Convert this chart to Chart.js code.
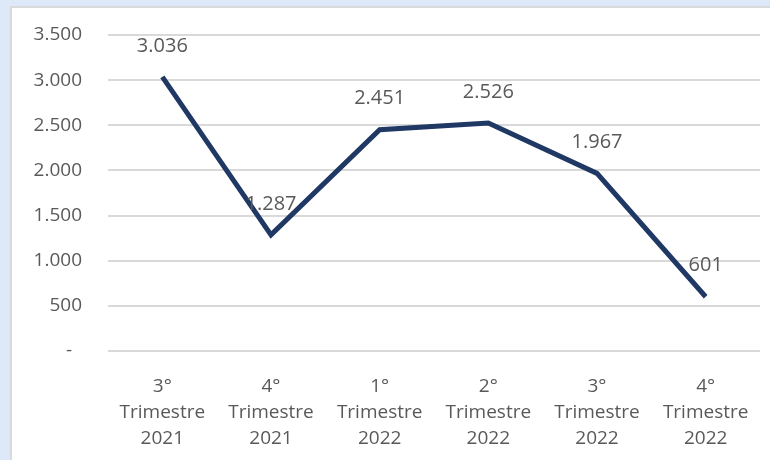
<!DOCTYPE html>
<html>
<head>
<meta charset="utf-8">
<script src="https://cdn.jsdelivr.net/npm/chart.js@4"></script>
<style>
  body { margin: 0; background: #dde8f8; width: 770px; height: 460px; overflow: hidden; }
  #box { position: absolute; left: 10px; top: 6px; width: 770px; height: 460px;
         background: #fff; border: 2px solid #d9d9d9; }
  #myChart { display: block; }
</style>
</head>
<body>
<div id="box"><canvas id="myChart" width="758" height="452"></canvas></div>
<script>
  const labels = [
    ['3°', 'Trimestre', '2021'],
    ['4°', 'Trimestre', '2021'],
    ['1°', 'Trimestre', '2022'],
    ['2°', 'Trimestre', '2022'],
    ['3°', 'Trimestre', '2022'],
    ['4°', 'Trimestre', '2022'],
  ];
  const values = [3036, 1287, 2451, 2526, 1967, 601];
  const yTicks = [0, 500, 1000, 1500, 2000, 2500, 3000, 3500];

  const fmt = (v) => v === 0 ? '-' : v.toLocaleString('it-IT');
  const fontFamily = '"Open Sans"';

  // etichette dati sopra i punti
  const dataLabels = {
    id: 'dataLabels',
    afterDatasetsDraw(chart) {
      const ctx = chart.ctx;
      const meta = chart.getDatasetMeta(0);
      ctx.save();
      ctx.fillStyle = '#595959';
      ctx.font = '20px ' + fontFamily;
      ctx.textAlign = 'center';
      ctx.textBaseline = 'middle';
      meta.data.forEach((pt, i) => {
        ctx.fillText(fmt(values[i]), pt.x, pt.y - 31);
      });
      ctx.restore();
    }
  };

  const data = {
    labels: labels,
    datasets: [{
      label: 'Valori',
      data: values,
      borderColor: '#203864',
      borderWidth: 5,
      pointRadius: 0,
      tension: 0,
      borderJoinStyle: 'miter',
    }]
  };

  const config = {
    type: 'line',
    data: data,
    plugins: [dataLabels],
    options: {
      responsive: false,
      animation: false,
      layout: { padding: { top: 27, right: 10, left: 0, bottom: 0 } },
      scales: {
        x: {
          offset: true,
          grid: { display: false },
          border: { display: false },
          ticks: {
            color: '#595959',
            padding: 15,
            maxRotation: 0,
            font: { family: fontFamily, size: 19, lineHeight: 1.37 },
          },
          afterFit: (s) => { s.height = 109; },
        },
        y: {
          min: 0,
          max: 3500,
          afterBuildTicks: (s) => { s.ticks = yTicks.map(v => ({ value: v })); },
          grid: { color: '#d9d9d9', lineWidth: 2, drawTicks: false },
          border: { display: false },
          ticks: {
            color: '#595959',
            padding: 26,
            font: { family: fontFamily, size: 19 },
            callback: (v) => v === 0 ? '-  ' : fmt(v),
          },
          afterFit: (s) => { s.width = 96; s.paddingTop = 0; s.paddingBottom = 0; },
        }
      },
      plugins: {
        legend: { display: false },
        tooltip: { enabled: false },
      },
    },
  };

  const myChart = new Chart(document.getElementById('myChart'), config);
</script>
</body>
</html>
